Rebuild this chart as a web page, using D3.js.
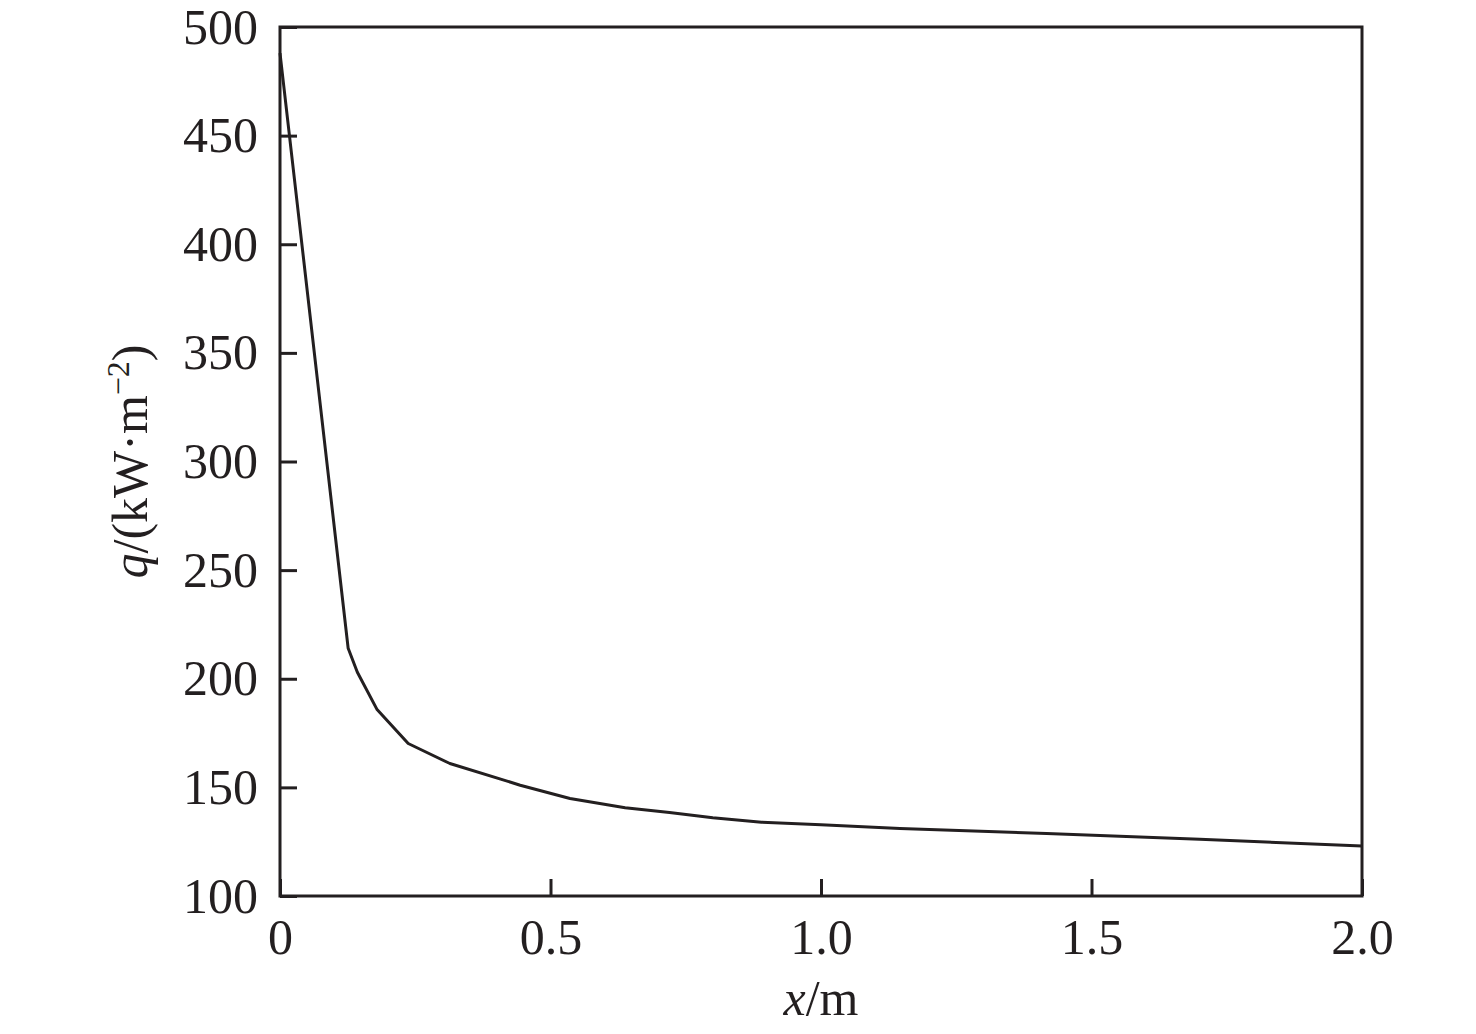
<!DOCTYPE html>
<html>
<head>
<meta charset="utf-8">
<script src="https://cdn.jsdelivr.net/npm/d3@7"></script>
<style>
  body { margin: 0; background: #fff; }
  text { font-family: "Liberation Serif", "Times New Roman", serif; fill: #231f20; }
</style>
</head>
<body>
<div id="chart"></div>
<script>
// data
var xVals = [0, 0.126, 0.143, 0.179, 0.237, 0.314, 0.444, 0.536, 0.638, 0.72, 0.80, 0.89, 1.0, 1.146, 1.417, 1.70, 2.0];
var qVals = [488, 214, 203, 186, 170.2, 161, 151, 144.9, 140.6, 138.4, 136, 134, 132.8, 131.1, 128.8, 126.1, 123];
var xTicks = [0, 0.5, 1.0, 1.5, 2.0];
var xTickLabels = ["0", "0.5", "1.0", "1.5", "2.0"];
var yTicks = [100, 150, 200, 250, 300, 350, 400, 450, 500];

var width = 1476, height = 1034;
var margin = {left: 280, right: 114, top: 27, bottom: 138};
var innerW = width - margin.left - margin.right,
    innerH = height - margin.top - margin.bottom;
var ink = "#231f20";

var svg = d3.select("#chart").append("svg")
    .attr("width", width)
    .attr("height", height);

var g = svg.append("g").attr("transform", "translate(" + margin.left + "," + margin.top + ")");

var x = d3.scaleLinear().domain([0, 2]).range([0, innerW]);
var y = d3.scaleLinear().domain([100, 500]).range([innerH, 0]);

// axes, ticks pointing inside
var xAxis = d3.axisBottom(x).tickValues(xTicks)
    .tickFormat(function(d, i) { return xTickLabels[i]; })
    .tickSize(-17).tickPadding(22);
var yAxis = d3.axisLeft(y).tickValues(yTicks).tickFormat(d3.format("d"))
    .tickSize(-17).tickPadding(22);

var gx = g.append("g").attr("transform", "translate(0," + innerH + ")").call(xAxis);
var gy = g.append("g").call(yAxis);

[gx, gy].forEach(function(a) {
  a.select(".domain").remove();
  a.selectAll(".tick line").attr("stroke", ink).attr("stroke-width", 3);
  a.selectAll(".tick text").style("font-size", "50px").attr("fill", ink);
});

// frame
g.append("rect")
  .attr("x", 0).attr("y", 0)
  .attr("width", innerW).attr("height", innerH)
  .attr("fill", "none").attr("stroke", ink).attr("stroke-width", 3);

// curve
var line = d3.line()
    .x(function(d, i) { return x(xVals[i]); })
    .y(function(d, i) { return y(qVals[i]); });

g.append("path")
  .datum(xVals)
  .attr("d", line)
  .attr("fill", "none")
  .attr("stroke", ink)
  .attr("stroke-width", 3)
  .attr("stroke-linejoin", "round");

// axis titles
var xt = svg.append("text")
  .attr("x", margin.left + innerW / 2)
  .attr("y", 1015)
  .attr("text-anchor", "middle")
  .style("font-size", "50px");
xt.append("tspan").style("font-style", "italic").text("x");
xt.append("tspan").text("/m");

var yt = svg.append("text")
  .attr("transform", "translate(147," + (margin.top + innerH / 2) + ") rotate(-90)")
  .attr("text-anchor", "middle")
  .style("font-size", "50px");
yt.append("tspan").style("font-style", "italic").text("q");
yt.append("tspan").text("/(kW\u00b7m");
yt.append("tspan").attr("dy", -18).style("font-size", "32px").text("\u22122");
yt.append("tspan").attr("dy", 18).text(")");
</script>
</body>
</html>
